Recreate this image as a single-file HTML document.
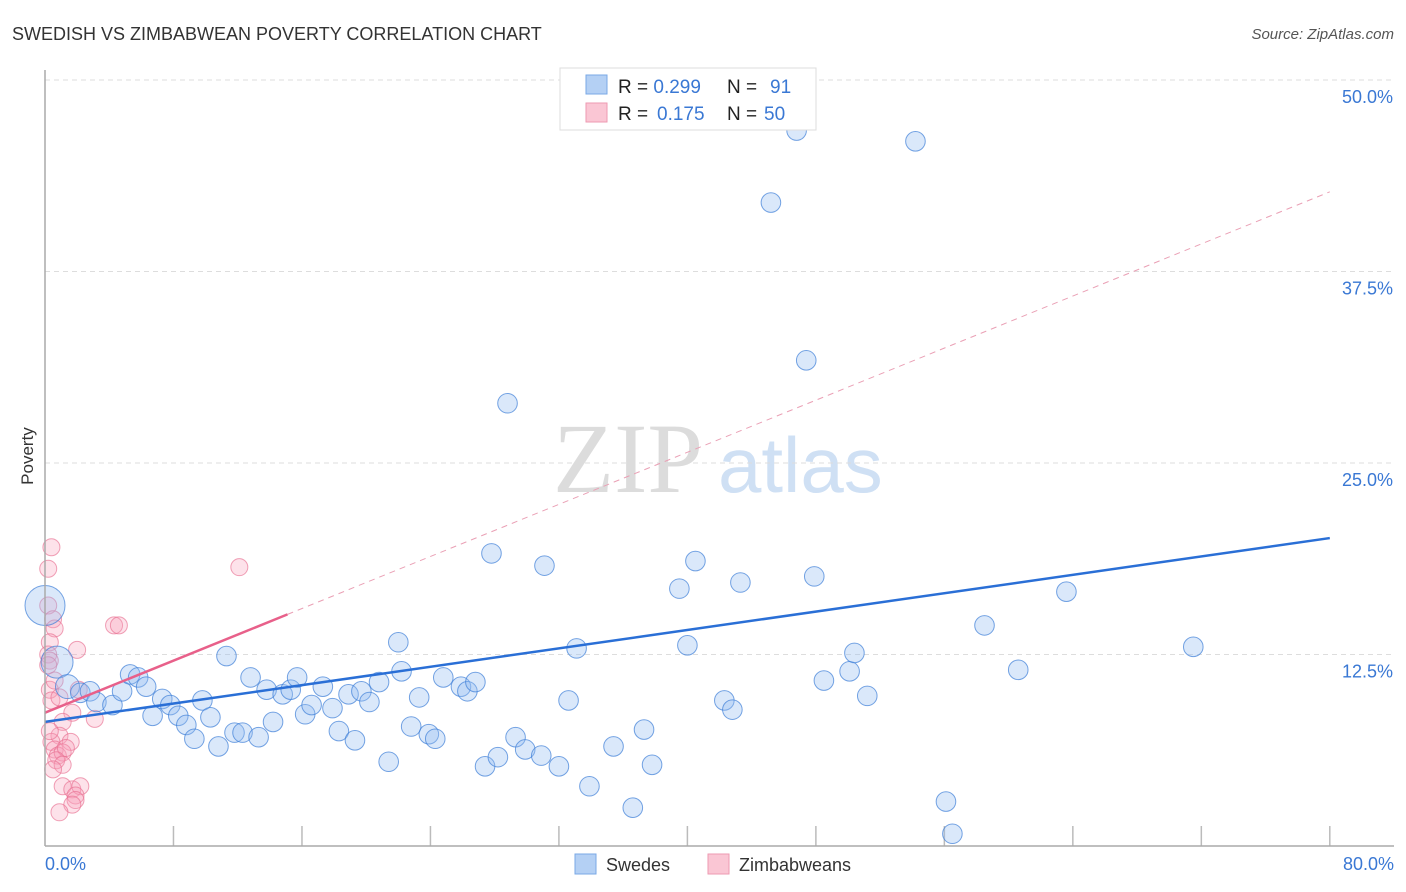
<!DOCTYPE html>
<html><head><meta charset="utf-8"><style>
body{margin:0;background:#fff;font-family:"Liberation Sans",sans-serif;}
#wrap{position:relative;width:1406px;height:892px;overflow:hidden;}
</style></head><body><div id="wrap">
<svg id="svg" width="1406" height="892" xmlns="http://www.w3.org/2000/svg">
<text x="12" y="40" font-size="18" fill="#333">SWEDISH VS ZIMBABWEAN POVERTY CORRELATION CHART</text>
<text x="1394" y="39" font-size="15" fill="#555" font-style="italic" text-anchor="end">Source: ZipAtlas.com</text>
<text x="33" y="456" font-size="17" fill="#333" text-anchor="middle" transform="rotate(-90 33 456)">Poverty</text>
<text x="553" y="492" font-size="100" fill="#dcdcdc" font-family="Liberation Serif,serif">ZIP</text>
<text x="718" y="492" font-size="78" fill="#cfe0f4">atlas</text>
<g id="grid"></g><g id="pts"></g><g id="lines"></g>
<line x1="45" y1="70" x2="45" y2="846" stroke="#aaa" stroke-width="1.5"/>
<line x1="45" y1="846" x2="1394" y2="846" stroke="#aaa" stroke-width="1.5"/>
<text x="45" y="870" font-size="18" fill="#3a78d4">0.0%</text>
<text x="1394" y="870" font-size="18" fill="#3a78d4" text-anchor="end">80.0%</text>
<rect x="560" y="68" width="256" height="62" fill="#fff" stroke="#ddd"/>
<rect x="586" y="75" width="21" height="19" fill="#b4d0f4" stroke="#7aa8e6"/>
<rect x="586" y="103" width="21" height="19" fill="#fac6d4" stroke="#ee9ab2"/>
<text x="618" y="93" font-size="19" fill="#222">R = <tspan fill="#3a78d4">0.299</tspan><tspan x="727">N =</tspan><tspan x="770" fill="#3a78d4">91</tspan></text>
<text x="618" y="120" font-size="19" fill="#222">R = <tspan x="657" fill="#3a78d4">0.175</tspan><tspan x="727">N =</tspan><tspan x="764" fill="#3a78d4">50</tspan></text>
<rect x="575" y="854" width="21" height="20" fill="#b4d0f4" stroke="#7aa8e6"/>
<text x="606" y="871" font-size="18" fill="#333">Swedes</text>
<rect x="708" y="854" width="21" height="20" fill="#fac6d4" stroke="#ee9ab2"/>
<text x="739" y="871" font-size="18" fill="#333">Zimbabweans</text>
</svg></div>
<script>
const yTicks=[12.5,25,37.5,50];
const yTickLabels=["12.5%","25.0%","37.5%","50.0%"];
const xTicks=[8,16,24,32,40,48,56,64,72,80];
const swedesX=[0,0.75,1.4,2.2,2.8,3.2,4.2,4.8,5.3,5.8,6.3,6.7,7.3,7.8,8.3,8.8,9.3,9.8,10.3,10.8,11.3,11.8,12.3,12.8,13.3,13.8,14.2,14.8,15.3,15.7,16.2,16.6,17.3,17.9,18.3,18.9,19.3,19.7,20.2,20.8,21.4,22.0,22.2,22.8,23.3,23.9,24.3,24.8,25.9,26.3,26.8,27.4,27.8,28.2,28.8,29.3,29.9,30.9,31.1,32.0,32.6,33.1,33.9,35.4,36.6,37.3,37.8,39.5,40.0,40.5,42.3,42.8,43.3,45.2,46.8,47.4,47.9,48.5,50.1,50.4,51.2,54.2,56.1,56.5,58.5,60.6,63.6,71.5];
const swedesY=[15.7,12.0,10.4,10.0,10.1,9.4,9.2,10.1,11.2,11.0,10.4,8.5,9.6,9.2,8.5,7.9,7.0,9.5,8.4,6.5,12.4,7.4,7.4,11.0,7.1,10.2,8.1,9.9,10.2,11.0,8.6,9.2,10.4,9.0,7.5,9.9,6.9,10.1,9.4,10.7,5.5,13.3,11.4,7.8,9.7,7.3,7.0,11.0,10.4,10.1,10.7,5.2,19.1,5.8,28.9,7.1,6.3,5.9,18.3,5.2,9.5,12.9,3.9,6.5,2.5,7.6,5.3,16.8,13.1,18.6,9.5,8.9,17.2,42.0,46.7,31.7,17.6,10.8,11.4,12.6,9.8,46.0,2.9,0.8,14.4,11.5,16.6,13.0];
const zimX=[0.4,0.2,12.1,0.2,0.5,0.6,4.3,4.6,0.3,2.0,0.2,0.3,0.2,0.3,2.1,0.4,0.9,1.7,3.1,1.1,0.9,1.6,0.4,0.6,0.8,1.1,1.3,0.7,1.1,0.5,1.1,1.7,2.2,1.9,1.9,1.7,0.9,0.3,0.6];
const zimY=[19.5,18.1,18.2,15.7,14.8,14.2,14.4,14.4,13.3,12.8,12.5,12.1,11.8,10.2,10.2,9.5,9.7,8.7,8.3,8.1,7.2,6.8,6.8,6.3,5.9,6.1,6.4,5.6,5.3,5.0,3.9,3.7,3.9,3.3,3.0,2.7,2.2,7.5,10.8];
const swedesTrend=[8.1,20.1];
const zimTrend=[8.7,42.7];
const NS="http://www.w3.org/2000/svg";
const sx=v=>45+v*16.06, sy=v=>846-v*15.32;
function mk(t,a,p){const e=document.createElementNS(NS,t);for(const k in a)e.setAttribute(k,a[k]);document.getElementById(p).appendChild(e);return e;}
yTicks.forEach((t,i)=>{
 const l=mk('line',{x1:45,x2:1394,y1:sy(t),y2:sy(t),stroke:'#ddd','stroke-dasharray':'5,4'},'grid');
 
 
 const tx=mk('text',{x:1393,y:sy(t)+23,'font-size':18,fill:'#3a78d4','text-anchor':'end'},'grid');
 tx.textContent=yTickLabels[i];
 
 
});
xTicks.forEach(t=>{
 const l=mk('line',{x1:sx(t),x2:sx(t),y1:826,y2:846,stroke:'#bbb','stroke-width':1.5},'grid');
 
 
});
zimX.forEach((x,i)=>{
 const c=mk('circle',{cx:sx(x),cy:sy(zimY[i]),r:8.5,fill:'rgba(247,160,185,0.3)',stroke:'rgba(232,110,145,0.65)','stroke-width':1},'pts');
 
 
});
swedesX.forEach((x,i)=>{
 const r=i==0?20:i==1?16:i==2?12:9.8;
 const c=mk('circle',{cx:sx(x),cy:sy(swedesY[i]),r:r,fill:'rgba(150,190,240,0.35)',stroke:'rgba(60,125,215,0.7)','stroke-width':1},'pts');
 
 
});
const bl=mk('line',{x1:sx(0),y1:sy(swedesTrend[0]),x2:sx(80),y2:sy(swedesTrend[1]),stroke:'#2a6fd6','stroke-width':2.5},'lines');


const zs=v=>zimTrend[0]+(zimTrend[1]-zimTrend[0])*v/80;
const pl=mk('line',{x1:sx(0),y1:sy(zs(0)),x2:sx(15.1),y2:sy(zs(15.1)),stroke:'#e8608a','stroke-width':2.5},'lines');


const pd=mk('line',{x1:sx(15.1),y1:sy(zs(15.1)),x2:sx(80),y2:sy(zs(80)),stroke:'#eaa0b5','stroke-width':1,'stroke-dasharray':'6,5'},'lines');


</script></body></html>
